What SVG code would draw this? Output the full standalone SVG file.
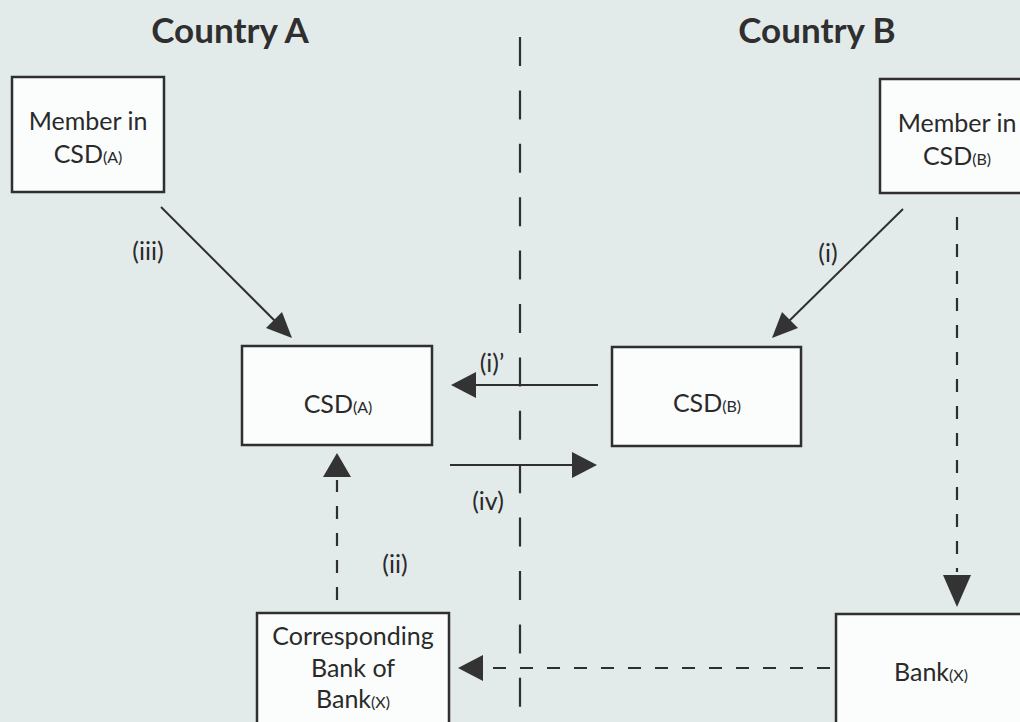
<svg xmlns="http://www.w3.org/2000/svg" width="1020" height="722" viewBox="0 0 1020 722">
<style>
.bg{fill:#e3ebea}
.box{fill:#fbfcfc;stroke:#2f2f2f;stroke-width:2.5}
.t{font-family:Lato,"Open Sans","Liberation Sans",sans-serif;font-size:25px;fill:#2a2a2a;text-anchor:middle}
.s{font-size:16px}
.h{font-family:Lato,"Open Sans","Liberation Sans",sans-serif;font-size:35px;font-weight:bold;fill:#2f2f2f;text-anchor:middle}
.lbl{font-family:Lato,"Open Sans","Liberation Sans",sans-serif;font-size:25px;fill:#2a2a2a;text-anchor:middle}
.ln{stroke:#2f2f2f;stroke-width:2;fill:none}
.dash{stroke:#2f2f2f;stroke-width:2.2;fill:none;stroke-dasharray:13 14}
.sep{stroke:#2f2f2f;stroke-width:2.2;fill:none;stroke-dasharray:29 24.4}
.ah{fill:#333}
</style>
<rect class="bg" x="0" y="0" width="1020" height="722"/>
<g id="titles">
<text class="h" x="230" y="43">Country A</text>
<text class="h" x="817" y="43">Country B</text>
</g>
<g id="separator">
<line class="sep" x1="520" y1="37" x2="520" y2="722"/>
</g>
<g id="memberA">
<rect class="box" x="12" y="77" width="152" height="115"/>
<text class="t" x="88" y="130">Member in</text>
<text class="t" x="88" y="163">CSD<tspan class="s">(A)</tspan></text>
</g>
<g id="memberB">
<rect class="box" x="880" y="79" width="150" height="114"/>
<text class="t" x="957" y="132">Member in</text>
<text class="t" x="957" y="165">CSD<tspan class="s">(B)</tspan></text>
</g>
<g id="csdA">
<rect class="box" x="242" y="346" width="190" height="99"/>
<text class="t" x="338" y="413">CSD<tspan class="s">(A)</tspan></text>
</g>
<g id="csdB">
<rect class="box" x="612" y="347" width="189" height="99"/>
<text class="t" x="707" y="412">CSD<tspan class="s">(B)</tspan></text>
</g>
<g id="corrBank">
<rect class="box" x="257" y="613" width="192" height="120"/>
<text class="t" x="353" y="645">Corresponding</text>
<text class="t" x="353" y="677">Bank of</text>
<text class="t" x="353" y="708">Bank<tspan class="s">(X)</tspan></text>
</g>
<g id="bankX">
<rect class="box" x="836" y="614" width="200" height="120"/>
<text class="t" x="931" y="681">Bank<tspan class="s">(X)</tspan></text>
</g>
<g id="connectors">
<line class="ln" x1="161" y1="207" x2="278" y2="324"/>
<polygon class="ah" points="292,338 266,328 282,312"/>
<text class="lbl" x="148" y="260">(iii)</text>
<line class="ln" x1="903" y1="209" x2="786" y2="324"/>
<polygon class="ah" points="772,338 782,312 798,328"/>
<text class="lbl" x="828" y="262">(i)</text>
<line class="ln" x1="598" y1="385" x2="474" y2="385"/>
<polygon class="ah" points="451,385 476,372 476,398"/>
<text class="lbl" x="492" y="372">(i)’</text>
<line class="ln" x1="450" y1="465" x2="575" y2="465"/>
<polygon class="ah" points="597,465 572,452 572,478"/>
<text class="lbl" x="488" y="510">(iv)</text>
<line class="dash" x1="337" y1="600" x2="337" y2="480"/>
<polygon class="ah" points="337,453 323,477 351,477"/>
<text class="lbl" x="395" y="573">(ii)</text>
<line class="dash" x1="957" y1="217" x2="957" y2="572"/>
<polygon class="ah" points="957,607 943,575 971,575"/>
<line class="dash" x1="830" y1="668" x2="485" y2="668"/>
<polygon class="ah" points="458,668 483,655 483,681"/>
</g>
</svg>
